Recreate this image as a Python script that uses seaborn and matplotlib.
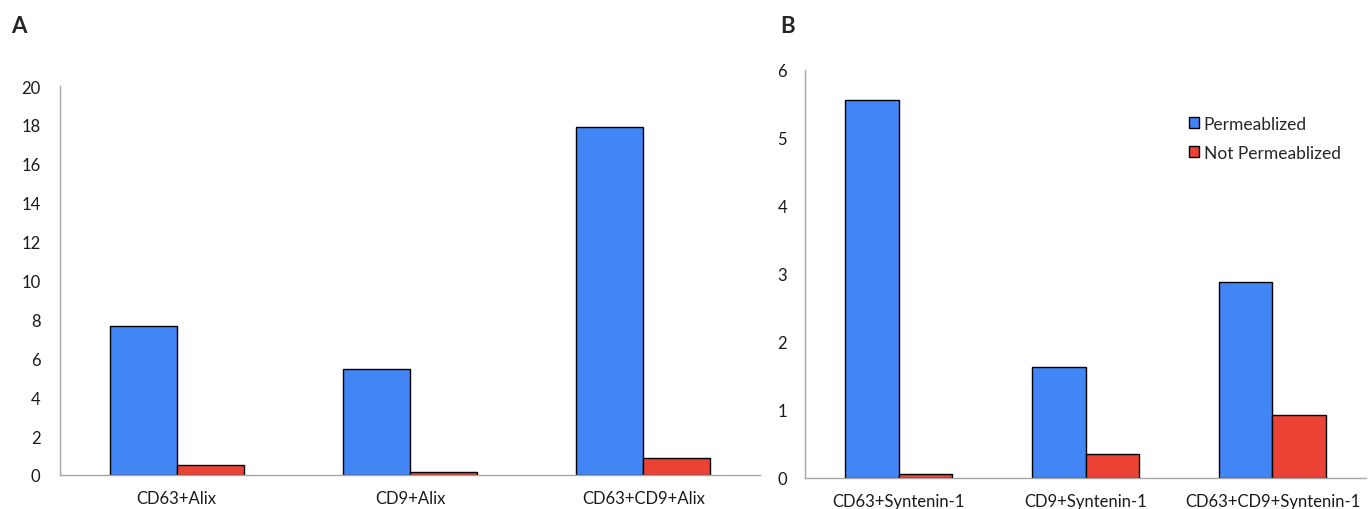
import pandas as pd
import matplotlib
matplotlib.use("Agg")
import matplotlib.pyplot as plt
import seaborn as sns
from matplotlib.patches import Patch

# data
alix_labels = ['CD63+Alix', 'CD9+Alix', 'CD63+CD9+Alix']
alix_perm = [7.66, 5.45, 17.9]
alix_notperm = [0.51, 0.15, 0.87]

syn_labels = ['CD63+Syntenin-1', 'CD9+Syntenin-1', 'CD63+CD9+Syntenin-1']
syn_perm = [5.56, 1.63, 2.88]
syn_notperm = [0.06, 0.35, 0.93]

groups = ['Permeablized', 'Not Permeablized']
colors = ['#4285F4', '#EA4335']

sns.set_style('white')
plt.rcParams['font.family'] = ['Lato', 'DejaVu Sans']


def long_df(labels, perm, notperm):
    rows = []
    for lab, p, n in zip(labels, perm, notperm):
        rows.append({'pair': lab, 'cond': groups[0], 'value': p})
        rows.append({'pair': lab, 'cond': groups[1], 'value': n})
    return pd.DataFrame(rows)


fig = plt.figure(figsize=(13.68, 5.1), dpi=100)
ax_a = fig.add_axes([0.0439, 0.0667, 0.5117, 0.7627])
ax_b = fig.add_axes([0.5885, 0.0608, 0.41, 0.80])

panels = [
    (ax_a, long_df(alix_labels, alix_perm, alix_notperm), 20, range(0, 21, 2), 14),
    (ax_b, long_df(syn_labels, syn_perm, syn_notperm), 6, range(0, 7), 13),
]

for ax, df, ymax, ticks, ypad in panels:
    sns.barplot(data=df, x='pair', y='value', hue='cond', hue_order=groups,
                palette=colors, width=0.575, edgecolor='black', linewidth=1,
                saturation=1, ax=ax, legend=False)
    ax.set_ylim(0, ymax)
    ax.set_xlim(-0.5, 2.5)
    ax.set_yticks(list(ticks))
    ax.set_xlabel('')
    ax.set_ylabel('')
    for s in ['top', 'right']:
        ax.spines[s].set_visible(False)
    for s in ['left', 'bottom']:
        ax.spines[s].set_color('#a6a6a6')
        ax.spines[s].set_linewidth(1)
    ax.tick_params(axis='both', length=0, labelsize=12, colors='#1a1a1a')
    ax.tick_params(axis='y', pad=ypad)
    ax.tick_params(axis='x', pad=11)

fig.text(0.008, 0.935, 'A', fontsize=16, fontweight='bold')
fig.text(0.570, 0.935, 'B', fontsize=16, fontweight='bold')

handles = [Patch(facecolor=c, edgecolor='black', linewidth=1) for c in colors]
fig.legend(handles, groups, loc='upper left', bbox_to_anchor=(0.864, 0.785),
           frameon=False, fontsize=12.5, handlelength=0.6, handleheight=0.6,
           handletextpad=0.25, labelspacing=0.75, borderaxespad=0)

fig.savefig('out.png', dpi=100)
